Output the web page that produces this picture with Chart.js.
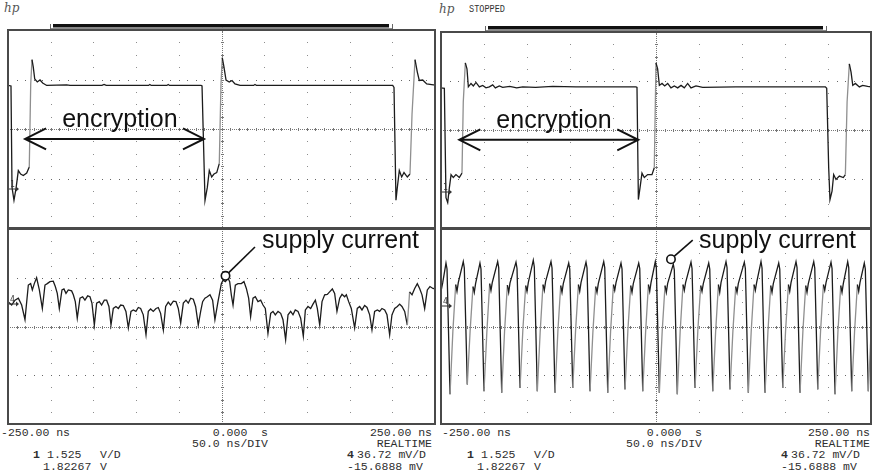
<!DOCTYPE html>
<html>
<head>
<meta charset="utf-8">
<script src="https://cdn.jsdelivr.net/npm/chart.js@4.4.1/dist/chart.umd.min.js"></script>
<style>
  html, body { margin: 0; padding: 0; background: #fff; }
  body { width: 872px; height: 476px; position: relative; overflow: hidden; }
  canvas { position: absolute; }
  #deco { position: absolute; left: 0; top: 0; }
  .mono { font-family: "Liberation Mono", "DejaVu Sans Mono", monospace; font-size: 11.5px; fill: #2e2e2e; white-space: pre; }
  .small { font-family: "Liberation Mono", "DejaVu Sans Mono", monospace; font-size: 10px; fill: #333; }
  .logo { font-family: "DejaVu Serif", serif; font-style: italic; font-size: 12px; fill: #555; }
</style>
</head>
<body>
<svg id="deco" width="872" height="476"></svg>
<canvas id="lt"></canvas>
<canvas id="lb"></canvas>
<canvas id="rt"></canvas>
<canvas id="rb"></canvas>
<script>
// screen divisions: time in ns (10 div), vertical in divisions from centre (4 div per trace)
const timeDivs = [-250, -200, -150, -100, -50, 0, 50, 100, 150, 200, 250];
const levelDivs = [-2, -1, 0, 1, 2];

// readout texts
const timeLabels = ['-250.00 ns', '0.000  s', '250.00 ns'];
const timebase = '50.0 ns/DIV';
const modeLabel = 'REALTIME';
const ch1Readout = ['1', '1.525', 'V/D', '1.82267', 'V'];
const ch4Readout = ['4', '36.72 mV/D', '-15.6888 mV'];

// channel 1 (encryption signal), left capture: [ns, div]
const ch1Left = [
  [-250,0.88],[-246.5,0.87],[-245.3,-1.18],[-243.0,-1.44],[-240.6,-1.20],[-237.9,-0.84],[-235.2,-0.91],
  [-232.1,-0.94],[-228.1,-0.89],[-225.1,-0.77],[-223.4,0.91],[-221.9,1.40],[-220.4,1.25],[-218.7,1.01],
  [-215.7,0.95],[-212.5,0.99],[-209.4,0.93],[-204.7,0.88],[-181.3,0.89],[-177.4,0.88],[-140,0.88],
  [-137.5,0.90],[-135,0.88],[-85.5,0.88],[-83.9,0.90],[-82.3,0.88],[-64,0.88],[-62.4,0.90],[-60.8,0.88],
  [-24.0,0.88],[-22.8,0.87],[-19.3,-1.44],[-16.6,-1.18],[-14.3,-0.84],[-11.5,-0.97],[-8.8,-0.91],
  [-5.6,-0.88],[-2.6,-0.70],[-0.6,0.91],[0.9,1.44],[2.9,1.25],[5.3,0.99],[9.1,0.95],[12.3,0.98],
  [15.8,0.91],[21.7,0.88],[37.5,0.88],[39.2,0.90],[41,0.88],[200.5,0.88],[202,0.84],[204.3,-1.44],
  [205.9,-1.18],[208.2,-0.84],[211.0,-0.97],[213.7,-0.88],[217.6,-0.97],[220.7,-0.91],[223.1,0.30],
  [226.6,1.40],[229.3,1.15],[231.6,0.98],[235.6,0.99],[240.3,0.91],[248.1,0.89],[250,0.89]
];

// channel 1, right capture
const ch1Right = [
  [-250,0.86],[-246.1,0.85],[-244.2,-1.38],[-242.2,-1.48],[-240.3,-1.18],[-238.3,-0.91],[-235.7,-0.97],
  [-232.6,-0.91],[-228.7,-0.97],[-225.6,-0.88],[-224.1,0.57],[-221.7,1.37],[-219.8,1.25],[-218.2,0.88],
  [-215.1,0.95],[-212.4,0.90],[-209.3,0.97],[-205.4,0.88],[-201.5,0.91],[-197.7,0.86],[-193.8,0.88],
  [-189.9,0.92],[-186.8,0.86],[-182.2,0.90],[-178.3,0.87],[-170,0.89],[-162,0.86],[-155,0.88],
  [-140,0.87],[-120.1,0.89],[-93,0.88],[-62,0.88],[-23.3,0.88],[-22.1,0.87],[-20.5,-1.42],[-18.6,-1.18],
  [-16.3,-0.88],[-13.6,-0.97],[-9.7,-0.91],[-4.7,-0.91],[-2.0,-0.77],[0,1.37],[1.9,1.25],[3.9,0.91],
  [7.0,0.95],[10.1,0.90],[13.6,0.95],[17.4,0.86],[21.3,0.90],[25.2,0.86],[29.1,0.91],[32.9,0.86],
  [36.8,0.95],[40.7,0.86],[46.5,0.90],[54.3,0.87],[93,0.88],[196.9,0.88],[198.5,0.85],[200.8,-0.77],
  [202.3,-1.42],[204.7,-1.25],[206.6,-0.91],[209.3,-1.01],[213.2,-0.94],[217.8,-0.97],[220.2,-0.91],
  [222.2,0.57],[224.8,1.35],[226.8,1.18],[228.8,0.91],[231.8,0.95],[236.5,0.88],[240.3,0.91],
  [246.1,0.89],[250,0.88]
];

// channel 4 (supply current), left capture
const ch4Left = [
  [-250,0.51],[-245.7,0.44],[-241.8,0.54],[-237.9,0.58],[-234.0,0.44],[-230.1,0.14],[-226.2,0.85],
  [-223.5,0.88],[-221.5,0.75],[-219.2,0.88],[-216.5,1.00],[-213.3,0.75],[-209.8,0.37],[-206.7,0.85],
  [-204.0,0.88],[-200.9,0.92],[-197.0,0.93],[-194.6,0.82],[-192.3,0.68],[-189.9,0.37],[-186.8,0.75],
  [-184.5,0.77],[-182.1,0.68],[-179.4,0.75],[-175.5,0.73],[-173.5,0.65],[-171.2,0.51],[-168.9,0.17],
  [-165.7,0.58],[-162.6,0.61],[-159.9,0.54],[-156.7,0.63],[-154.0,0.61],[-151.7,0.48],[-148.9,0.03],
  [-146.2,0.48],[-143.1,0.51],[-140.4,0.44],[-137.2,0.54],[-134.5,0.54],[-131.8,0.41],[-129.4,0.03],
  [-126.7,0.37],[-123.6,0.41],[-120.8,0.37],[-118.1,0.44],[-115.0,0.43],[-111.9,0.31],[-109.1,-0.03],
  [-106.0,0.31],[-103.3,0.34],[-100.2,0.31],[-97.4,0.39],[-94.7,0.37],[-91.6,0.24],[-88.4,-0.17],
  [-85.7,0.31],[-83.0,0.36],[-79.9,0.31],[-76.7,0.37],[-74.0,0.39],[-71.3,0.27],[-68.1,-0.07],
  [-65.4,0.41],[-62.3,0.50],[-59.6,0.44],[-56.4,0.52],[-53.3,0.51],[-50.6,0.37],[-47.8,0.07],
  [-44.7,0.48],[-41.6,0.54],[-38.9,0.48],[-36.1,0.58],[-33.0,0.56],[-30.3,0.41],[-27.2,0.03],
  [-24.4,0.31],[-22.1,0.51],[-19.4,0.58],[-16.6,0.61],[-13.5,0.65],[-10.4,0.54],[-7.7,0.14],
  [-4.1,0.51],[-0.2,0.88],[1.8,0.95],[4.5,0.92],[7.6,0.99],[9.6,0.92],[11.5,0.65],[13.5,0.44],
  [16.2,0.85],[19.3,0.88],[23.2,0.88],[26.3,0.92],[29.1,0.78],[31.8,0.58],[34.1,0.20],[36.9,0.58],
  [39.6,0.61],[42.7,0.51],[45.9,0.54],[48.6,0.44],[51.3,0.37],[54.4,-0.14],[57.6,0.27],[60.3,0.31],
  [63.0,0.24],[66.2,0.31],[69.3,0.27],[72.0,0.14],[75.1,-0.27],[77.9,0.24],[81.0,0.31],[83.7,0.24],
  [86.4,0.34],[89.6,0.31],[92.7,0.17],[95.8,-0.20],[98.2,0.34],[101.3,0.41],[104.4,0.37],[107.1,0.46],
  [109.9,0.54],[112.2,0.37],[115.0,0.03],[117.7,0.51],[120.8,0.65],[123.9,0.66],[126.6,0.71],
  [129.8,0.77],[132.5,0.68],[135.2,0.31],[138.4,0.58],[141.1,0.66],[144.2,0.61],[146.2,0.65],
  [148.9,0.51],[152.0,0.37],[155.9,-0.03],[159.0,0.37],[161.8,0.41],[164.5,0.34],[167.6,0.43],
  [170.4,0.39],[173.5,0.24],[176.2,-0.07],[179.3,0.31],[182.5,0.34],[185.2,0.31],[187.9,0.37],
  [191.1,0.34],[193.8,0.24],[196.9,-0.17],[199.6,0.24],[202.8,0.37],[205.9,0.41],[208.6,0.46],
  [211.3,0.41],[214.5,0.31],[217.6,0.03],[220.3,0.71],[223.1,0.65],[226.2,0.78],[229.3,0.88],
  [232.0,0.78],[234.8,0.65],[237.9,0.37],[241.0,0.75],[244.1,0.82],[247.6,0.78],[250,0.77]
];

// channel 4, right capture
const ch4Right = [
  [-250,0.72],[-248,0.90],
  [-244.2,1.30],[-243.0,1.18],[-239.5,-1.39],[-236.2,-0.10],[-232.9,0.86],[-231.4,0.72],[-229.9,0.90],
  [-224.1,1.33],[-222.9,1.20],[-219.4,-1.19],[-216.1,-0.08],[-212.8,0.82],[-211.3,0.70],[-209.8,0.88],
  [-204.7,1.30],[-203.5,1.18],[-200.0,-1.33],[-196.7,-0.12],[-193.4,0.88],[-191.9,0.74],[-190.4,0.90],
  [-184.1,1.33],[-182.9,1.21],[-179.4,-1.36],[-176.1,-0.10],[-172.8,0.85],[-171.3,0.70],[-169.8,0.89],
  [-162.8,1.32],[-161.6,1.19],[-158.1,-1.26],[-154.8,-0.06],[-151.5,0.84],[-150.0,0.72],[-148.5,0.90],
  [-142.7,1.36],[-141.5,1.22],[-138.0,-1.33],[-134.7,-0.12],[-131.4,0.86],[-129.9,0.74],[-128.4,0.92],
  [-122.1,1.33],[-120.9,1.20],[-117.4,-1.36],[-114.1,-0.10],[-110.8,0.84],[-109.3,0.70],[-107.8,0.88],
  [-101.5,1.30],[-100.3,1.18],[-96.8,-1.26],[-93.5,-0.08],[-90.2,0.86],[-88.7,0.72],[-87.2,0.90],
  [-81.4,1.32],[-80.2,1.20],[-76.7,-1.33],[-73.4,-0.12],[-70.1,0.82],[-68.6,0.70],[-67.1,0.88],
  [-60.8,1.33],[-59.6,1.21],[-56.1,-1.36],[-52.8,-0.10],[-49.5,0.86],[-48.0,0.74],[-46.5,0.90],
  [-40.7,1.30],[-39.5,1.18],[-36.0,-1.29],[-32.7,-0.08],[-29.4,0.84],[-27.9,0.70],[-26.4,0.88],
  [-20.1,1.30],[-18.9,1.19],[-15.4,-1.33],[-12.1,-0.12],[-8.8,0.86],[-7.3,0.72],[-5.8,0.90],
  [-0.8,1.33],[0.4,1.20],[3.9,-1.36],[7.2,-0.10],[10.5,0.84],[12.0,0.70],[13.5,0.88],
  [20.1,1.28],[21.3,1.16],[24.8,-1.39],[28.1,-0.10],[31.4,0.86],[32.9,0.74],[34.4,0.90],
  [40.7,1.32],[41.9,1.19],[45.4,-1.26],[48.7,-0.06],[52.0,0.84],[53.5,0.72],[55.0,0.88],
  [61.3,1.30],[62.5,1.18],[66.0,-1.33],[69.3,-0.12],[72.6,0.86],[74.1,0.70],[75.6,0.90],
  [81.4,1.33],[82.6,1.21],[86.1,-1.29],[89.4,-0.10],[92.7,0.82],[94.2,0.70],[95.7,0.88],
  [102.7,1.32],[103.9,1.19],[107.4,-1.36],[110.7,-0.10],[114.0,0.86],[115.5,0.74],[117.0,0.90],
  [122.1,1.33],[123.3,1.20],[126.8,-1.36],[130.1,-0.12],[133.4,0.84],[134.9,0.70],[136.4,0.88],
  [142.7,1.30],[143.9,1.18],[147.4,-1.26],[150.7,-0.08],[154.0,0.86],[155.5,0.72],[157.0,0.90],
  [162.8,1.33],[164.0,1.21],[167.5,-1.36],[170.8,-0.10],[174.1,0.84],[175.6,0.70],[177.1,0.88],
  [183.4,1.33],[184.6,1.20],[188.1,-1.29],[191.4,-0.08],[194.7,0.86],[196.2,0.74],[197.7,0.90],
  [203.5,1.32],[204.7,1.19],[208.2,-1.39],[211.5,-0.12],[214.8,0.84],[216.3,0.70],[217.8,0.88],
  [222.9,1.33],[224.1,1.21],[227.6,-1.33],[230.9,-0.10],[234.2,0.86],[235.7,0.72],[237.2,0.90],
  [242.2,1.30],[243.4,1.18],[246.9,-1.33],[250,-0.15]
];

// annotations, in data units
const notes = {
  lt: { arrow: [-230, -20.5, -0.2], label: ['encryption', -119, 0.05, 'center'], marker: ['1', -1.2] },
  rt: { arrow: [-228.7, -20.6, -0.2], label: ['encryption', -118.6, 0.05, 'center'], marker: ['1', -1.25] },
  lb: { pointer: [4.7, 1.04, 39.2, 1.63], label: ['supply current', 47.4, 1.61, 'left'], marker: ['4', 0.48] },
  rb: { pointer: [17.4, 1.38, 42.7, 1.77], label: ['supply current', 50, 1.61, 'left'], marker: ['4', 0.44] }
};

const PAD = 3;

const scopePlugin = {
  id: 'scope',
  beforeDatasetsDraw(chart) {
    const { ctx, chartArea: a, scales: { x, y } } = chart;
    const tMin = timeDivs[0], tMax = timeDivs[timeDivs.length - 1];
    const vMin = levelDivs[0], vMax = levelDivs[levelDivs.length - 1];
    const tStep = (timeDivs[1] - timeDivs[0]) / 5;
    const vStep = (levelDivs[1] - levelDivs[0]) / 4;
    ctx.save();
    // column dots
    ctx.fillStyle = '#8c8c8c';
    timeDivs.slice(1, -1).forEach(t => {
      if (t === 0) return;
      const px = Math.round(x.getPixelForValue(t));
      for (let v = vMin + vStep; v < vMax - 1e-6; v += vStep) {
        ctx.fillRect(px, Math.round(y.getPixelForValue(v)), 1, 1);
      }
    });
    // row dots
    ctx.fillStyle = '#666';
    levelDivs.slice(1, -1).forEach(v => {
      if (v === 0) return;
      const py = Math.round(y.getPixelForValue(v));
      for (let t = tMin + tStep; t < tMax - 1e-6; t += tStep) {
        ctx.fillRect(Math.round(x.getPixelForValue(t)), py, 1, 1);
      }
    });
    // centre axes
    ctx.fillStyle = '#777';
    const cy = Math.round(y.getPixelForValue(0));
    const cx = Math.round(x.getPixelForValue(0));
    for (let px = Math.ceil(a.left); px < a.right; px += 2) ctx.fillRect(px, cy, 1, 1);
    for (let py = Math.ceil(a.top); py < a.bottom; py += 2) ctx.fillRect(cx, py, 1, 1);
    for (let t = tMin + tStep; t < tMax - 1e-6; t += tStep) {
      ctx.fillRect(Math.round(x.getPixelForValue(t)), cy - 1, 1, 3);
    }
    for (let v = vMin + vStep; v < vMax - 1e-6; v += vStep) {
      ctx.fillRect(cx - 1, Math.round(y.getPixelForValue(v)), 3, 1);
    }
    ctx.restore();
  },
  afterDatasetsDraw(chart) {
    const { ctx, chartArea: a, scales: { x, y } } = chart;
    const n = notes[chart.canvas.id];
    ctx.save();
    ctx.strokeStyle = '#111';
    ctx.fillStyle = '#111';
    if (n.arrow) {
      const [t1, t2, v] = n.arrow;
      const x1 = x.getPixelForValue(t1), x2 = x.getPixelForValue(t2), py = y.getPixelForValue(v);
      ctx.lineWidth = 2;
      ctx.beginPath();
      ctx.moveTo(x1, py); ctx.lineTo(x2, py);
      ctx.moveTo(x1 + 21, py - 10.5); ctx.lineTo(x1, py); ctx.lineTo(x1 + 21, py + 10.5);
      ctx.moveTo(x2 - 21, py - 10.5); ctx.lineTo(x2, py); ctx.lineTo(x2 - 21, py + 10.5);
      ctx.stroke();
    }
    if (n.pointer) {
      const [t, v, t2, v2] = n.pointer;
      const px = x.getPixelForValue(t), py = y.getPixelForValue(v);
      const qx = x.getPixelForValue(t2), qy = y.getPixelForValue(v2);
      const ang = Math.atan2(qy - py, qx - px), r = 4.2;
      ctx.lineWidth = 1.6;
      ctx.beginPath();
      ctx.moveTo(px + r * Math.cos(ang), py + r * Math.sin(ang));
      ctx.lineTo(qx, qy);
      ctx.stroke();
      ctx.beginPath();
      ctx.arc(px, py, r, 0, Math.PI * 2);
      ctx.fillStyle = '#fff';
      ctx.fill();
      ctx.stroke();
      ctx.fillStyle = '#111';
    }
    if (n.label) {
      const [text, t, v, align] = n.label;
      ctx.font = '25px "Liberation Sans", Arial, sans-serif';
      ctx.textAlign = align;
      ctx.textBaseline = 'alphabetic';
      ctx.fillText(text, x.getPixelForValue(t), y.getPixelForValue(v));
    }
    if (n.marker) {
      const [txt, v] = n.marker;
      const py = Math.round(y.getPixelForValue(v));
      ctx.font = '8px "DejaVu Sans Mono", monospace';
      ctx.textAlign = 'left';
      ctx.fillStyle = '#333';
      ctx.fillText(txt, a.left + 2, py - 1);
      ctx.beginPath();
      ctx.moveTo(a.left + 1, py + 1); ctx.lineTo(a.left + 8, py + 1);
      ctx.lineWidth = 1; ctx.strokeStyle = '#333'; ctx.stroke();
      ctx.beginPath();
      ctx.moveTo(a.left + 8, py - 1.5); ctx.lineTo(a.left + 11, py + 1); ctx.lineTo(a.left + 8, py + 3.5);
      ctx.fill();
    }
    ctx.restore();
  },
  afterDraw(chart) {
    const { ctx, chartArea: a } = chart;
    ctx.save();
    ctx.strokeStyle = '#4a4a4a';
    ctx.lineWidth = 2;
    ctx.strokeRect(a.left, a.top, a.right - a.left, a.bottom - a.top);
    ctx.restore();
  }
};

const edgeColour = c => {
  const dx = Math.max(c.p1.parsed.x - c.p0.parsed.x, 0.01);
  return (c.p1.parsed.y - c.p0.parsed.y) / dx > 0.25 ? '#8f8f8f' : '#1c1c1c';
};

const panes = [
  { id: 'lt', l: 8, t: 30, r: 435, b: 228, trace: ch1Left },
  { id: 'lb', l: 8, t: 229, r: 435, b: 424, trace: ch4Left },
  { id: 'rt', l: 441, t: 32, r: 871, b: 228, trace: ch1Right },
  { id: 'rb', l: 441, t: 229, r: 871, b: 424, trace: ch4Right }
];

panes.forEach(p => {
  const c = document.getElementById(p.id);
  c.width = p.r - p.l + 2 * PAD;
  c.height = p.b - p.t + 2 * PAD;
  c.style.left = (p.l - PAD) + 'px';
  c.style.top = (p.t - PAD) + 'px';
  new Chart(c, {
    type: 'line',
    data: {
      datasets: [{
        data: p.trace.map(([t, v]) => ({ x: t, y: v })),
        borderColor: '#1c1c1c',
        borderWidth: 1.3,
        pointRadius: 0,
        tension: 0,
        segment: { borderColor: edgeColour }
      }]
    },
    options: {
      responsive: false,
      animation: false,
      events: [],
      layout: { padding: PAD },
      plugins: { legend: { display: false }, tooltip: { enabled: false } },
      scales: {
        x: { type: 'linear', min: timeDivs[0], max: timeDivs[timeDivs.length - 1], display: false },
        y: { type: 'linear', min: levelDivs[0], max: levelDivs[levelDivs.length - 1], display: false }
      }
    },
    plugins: [scopePlugin]
  });
});

// decoration: logo, memory bar, readouts
const svg = document.getElementById('deco');
const NS = 'http://www.w3.org/2000/svg';
function el(tag, attrs, text) {
  const e = document.createElementNS(NS, tag);
  Object.entries(attrs).forEach(([k, v]) => e.setAttribute(k, v));
  if (text !== undefined) e.textContent = text;
  svg.appendChild(e);
  return e;
}
function memoryBar(x1, x2, y, cx) {
  el('line', { x1: x1, y1: y + 4.5, x2: x2, y2: y + 4.5, stroke: '#888', 'stroke-width': 1 });
  el('line', { x1: x1 + 0.5, y1: y, x2: x1 + 0.5, y2: y + 6, stroke: '#666', 'stroke-width': 1 });
  el('line', { x1: x2 - 0.5, y1: y, x2: x2 - 0.5, y2: y + 6, stroke: '#666', 'stroke-width': 1 });
  el('rect', { x: x1 + 3, y: y, width: x2 - x1 - 7, height: 3.5, fill: '#111' });
  el('line', { x1: cx + 0.5, y1: y + 3, x2: cx + 0.5, y2: y + 8, stroke: '#777', 'stroke-width': 1, 'stroke-dasharray': '1 1' });
}
el('text', { x: 4, y: 12, class: 'logo' }, 'hp');
el('text', { x: 439, y: 13, class: 'logo' }, 'hp');
el('text', { x: 469, y: 12, class: 'small', textLength: 36, lengthAdjust: 'spacingAndGlyphs' }, 'STOPPED');
memoryBar(50, 393, 24, 222);
memoryBar(485, 827, 26, 656);

function readout(o) {
  el('text', { x: o.a, y: 436, class: 'mono' }, timeLabels[0]);
  el('text', { x: o.c, y: 436, class: 'mono', 'text-anchor': 'end' }, timeLabels[1]);
  el('text', { x: o.r, y: 436, class: 'mono', 'text-anchor': 'end' }, timeLabels[2]);
  el('text', { x: o.c, y: 447, class: 'mono', 'text-anchor': 'end' }, timebase);
  el('text', { x: o.r, y: 447, class: 'mono', 'text-anchor': 'end' }, modeLabel);
  el('text', { x: o.m1, y: 458, class: 'mono', 'font-weight': 'bold' }, ch1Readout[0]);
  el('text', { x: o.m1 + 14, y: 458, class: 'mono' }, ch1Readout[1]);
  el('text', { x: o.m1 + 67, y: 458, class: 'mono' }, ch1Readout[2]);
  el('text', { x: o.m1 + 10, y: 470, class: 'mono' }, ch1Readout[3]);
  el('text', { x: o.m1 + 67, y: 470, class: 'mono' }, ch1Readout[4]);
  el('text', { x: o.m4, y: 458, class: 'mono', 'font-weight': 'bold' }, ch4Readout[0]);
  el('text', { x: o.m4 + 10, y: 458, class: 'mono' }, ch4Readout[1]);
  el('text', { x: o.m4, y: 470, class: 'mono' }, ch4Readout[2]);
}
readout({ a: 1, c: 268, r: 432, m1: 33, m4: 347 });
readout({ a: 442, c: 702, r: 870, m1: 467, m4: 781 });
</script>
</body>
</html>
